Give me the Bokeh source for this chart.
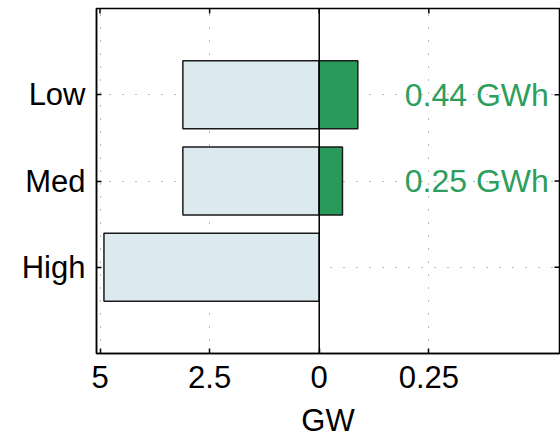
import math
from bokeh.plotting import figure
from bokeh.models import Range1d, FixedTicker, Span, ColumnDataSource
from bokeh.embed import file_html
from bokeh.resources import INLINE
from bokeh.core.properties import value

# ---- data ----
categories = ["High", "Med", "Low"]
cat_pos = [1, 2, 3]
power_gw = [4.91, 3.11, 3.11]          # left side, GW
green_cats = ["Med", "Low"]
green_pos = [2, 3]
green_vals = [0.053, 0.088]            # right side, axis units
energy_gwh = [0.25, 0.44]
x_ticks_left = [5, 2.5]
x_ticks_right = [0, 0.25]
left_scale = 10.0                      # left half is drawn at 1/10 scale

FONT = "Liberation Sans"
FS = "31px"

xr = Range1d(-0.508, 0.548)
yr = Range1d(0, 4)
p = figure(width=560, height=440, output_backend="svg", toolbar_location=None,
           x_range=xr, y_range=yr,
           min_border_left=96, min_border_right=1, min_border_top=8, min_border_bottom=84)

p.outline_line_color = "black"
p.outline_line_width = 1.5
p.background_fill_color = "white"
p.border_fill_color = "white"

xt = [-v / left_scale for v in x_ticks_left] + x_ticks_right

for g in [p.xgrid[0], p.ygrid[0]]:
    g.grid_line_color = "#777777"
    g.grid_line_dash = "1 12"
    g.grid_line_width = 1
p.xgrid.ticker = FixedTicker(ticks=xt)
p.ygrid.ticker = FixedTicker(ticks=cat_pos)

left_src = ColumnDataSource(dict(y=cat_pos, left=[-v / left_scale for v in power_gw],
                                 right=[0] * len(power_gw)))
p.hbar(y="y", left="left", right="right", height=0.79, source=left_src,
       fill_color="#dceaf0", line_color="#1a1a1a", line_width=1.5)

green_src = ColumnDataSource(dict(y=green_pos, left=[0] * len(green_vals), right=green_vals,
                                  lab=[f"{e:.2f} GWh" for e in energy_gwh],
                                  tx=[0.195] * len(green_vals)))
p.hbar(y="y", left="left", right="right", height=0.79, source=green_src,
       fill_color="#2a9a5a", line_color="#1a1a1a", line_width=1.5)

p.text(x="tx", y="y", text="lab", source=green_src, text_color="#2e9e5e",
       text_font=value(FONT), text_font_size="32px", text_baseline="middle", text_align="left")

p.add_layout(Span(location=0, dimension="height", line_color="black", line_width=1.5))

# inner ticks on top and right edges (half of each dash falls inside the frame)
p.scatter(x=xt, y=[yr.end] * len(xt), marker="dash", size=10, angle=math.pi / 2,
          line_color="black", line_width=1.5)
p.scatter(x=[xr.end] * len(cat_pos), y=cat_pos, marker="dash", size=10,
          line_color="black", line_width=1.5)

xlabels = {}
for v in x_ticks_left:
    xlabels[-v / left_scale] = f"{v:g}"
for v in x_ticks_right:
    xlabels[v] = f"{v:g}"

p.xaxis.ticker = FixedTicker(ticks=xt)
p.xaxis.major_label_overrides = xlabels
p.yaxis.ticker = FixedTicker(ticks=cat_pos)
p.yaxis.major_label_overrides = {pos: c for pos, c in zip(cat_pos, categories)}

for ax in [p.xaxis[0], p.yaxis[0]]:
    ax.major_tick_in = 5
    ax.major_tick_out = 0
    ax.minor_tick_line_color = None
    ax.axis_line_color = "black"
    ax.axis_line_width = 1.5
    ax.major_tick_line_color = "black"
    ax.major_tick_line_width = 1.5
    ax.major_label_text_font = FONT
    ax.major_label_text_font_size = FS
    ax.major_label_text_color = "black"

p.xaxis.axis_label = "GW"
p.xaxis.axis_label_text_font = FONT
p.xaxis.axis_label_text_font_size = FS
p.xaxis.axis_label_text_font_style = "normal"
p.xaxis.axis_label_text_color = "black"
p.xaxis.major_label_standoff = 12
p.xaxis.axis_label_standoff = 12
p.yaxis.major_label_standoff = 11

open("out.html", "w").write(file_html(p, INLINE))
